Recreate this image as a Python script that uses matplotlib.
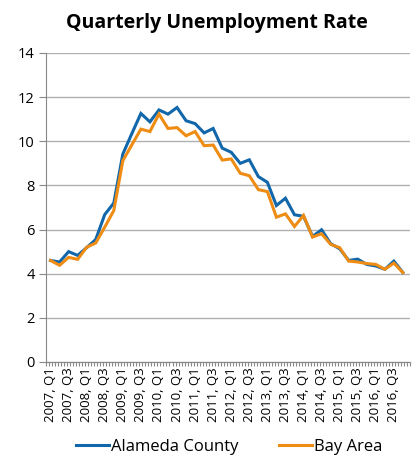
import matplotlib.pyplot as plt
import numpy as np

# quarterly unemployment rate (%), 2007 Q1 .. 2016 Q4
quarters = [f"{y}, Q{q}" for y in range(2007, 2017) for q in range(1, 5)]
alameda = [4.6, 4.53, 5.0, 4.83, 5.18, 5.55, 6.68, 7.2,
           9.42, 10.35, 11.26, 10.88, 11.42, 11.23, 11.53, 10.93,
           10.8, 10.38, 10.58, 9.69, 9.5, 9.0, 9.16, 8.4,
           8.14, 7.09, 7.42, 6.67, 6.6, 5.69, 5.99, 5.36,
           5.13, 4.6, 4.66, 4.42, 4.35, 4.2, 4.57, 4.05]
bay_area = [4.6, 4.38, 4.74, 4.65, 5.2, 5.39, 6.11, 6.86,
            9.12, 9.84, 10.55, 10.44, 11.23, 10.58, 10.62, 10.25,
            10.44, 9.8, 9.83, 9.15, 9.2, 8.55, 8.44, 7.81,
            7.72, 6.56, 6.71, 6.14, 6.64, 5.66, 5.81, 5.33,
            5.18, 4.57, 4.53, 4.46, 4.42, 4.2, 4.48, 4.05]

plt.rcParams['font.family'] = ['Open Sans', 'DejaVu Sans']

fig = plt.figure(figsize=(4.12, 4.62), dpi=100)
ax = fig.add_axes([0.1117, 0.2165, 0.8845, 0.6688])

x = np.arange(len(quarters))
ax.plot(x, alameda, color='#1167AA', lw=2.2, label='Alameda County', solid_joinstyle='miter')
ax.plot(x, bay_area, color='#EE8C14', lw=2.2, label='Bay Area', solid_joinstyle='miter')

ax.set_xlim(-0.5, len(quarters) - 0.5)
ax.set_ylim(0, 14)
ax.set_yticks(range(0, 15, 2))
ax.set_xticks(x[::2])
ax.set_xticklabels(quarters[::2], rotation=90, fontsize=9.5)
ax.set_xticks(np.arange(-0.5, len(quarters), 1 / 3), minor=True)
ax.tick_params(axis='x', which='major', length=0, pad=4)
ax.tick_params(axis='x', which='minor', length=3, color='#888888', width=0.8)
ax.tick_params(axis='y', length=5, color='#888888', width=0.8, labelsize=10.5, pad=3)

ax.grid(axis='y', color='#B0B0B0', lw=1.0)
ax.set_axisbelow(True)
for s in ['top', 'right']:
    ax.spines[s].set_visible(False)
ax.spines['left'].set_color('#888888')
ax.spines['bottom'].set_color('#888888')

fig.text(217 / 412, 1 - 23 / 462, 'Quarterly Unemployment Rate', fontsize=14,
         fontweight='bold', ha='center', va='center')
fig.legend(loc='center', bbox_to_anchor=(229 / 412, 1 - 447 / 462), ncol=2, frameon=False,
           fontsize=12, handlelength=2.0, columnspacing=2.4, handletextpad=0.1)

fig.savefig('out.png', dpi=100)
